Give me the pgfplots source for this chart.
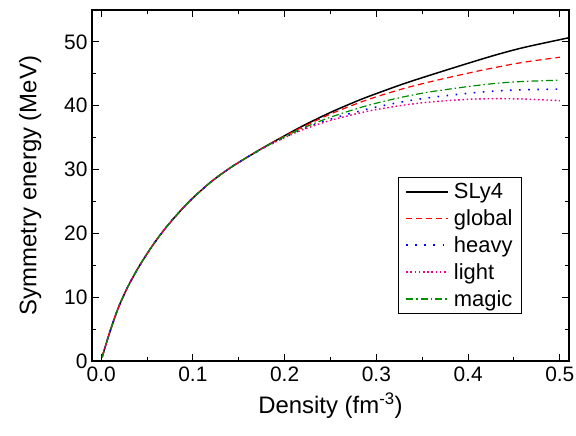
\documentclass[border=0pt]{standalone}
\usepackage{pgfplots}
\pgfplotsset{compat=1.18}
\usepackage{pgfplotstable}
\usepackage{fontspec}
\setmainfont{Liberation Sans}
\definecolor{cgreen}{RGB}{0,140,0}

\pgfplotstableread{
x sly4
0.001 0.6
0.005 2.5
0.01 4.8
0.015 6.9
0.02 8.8
0.025 10.4
0.03 11.9
0.04 14.5
0.05 16.8
0.06 18.9
0.07 20.8
0.08 22.5
0.09 24.1
0.10 25.55
0.12 28.1
0.14 30.2
0.16 32.0
0.18 33.7
0.20 35.3
0.22 36.85
0.25 38.95
0.28 40.8
0.30 41.9
0.33 43.45
0.36 44.85
0.40 46.65
0.43 47.95
0.46 49.1
0.50 50.35
0.51 50.65
}\sly

\pgfplotstableread{
x global heavy light magic
0.001 0.6 0.6 0.6 0.6
0.005 2.5 2.5 2.5 2.5
0.01 4.8 4.8 4.8 4.8
0.015 6.9 6.9 6.9 6.9
0.02 8.8 8.8 8.8 8.8
0.025 10.4 10.4 10.4 10.4
0.03 11.9 11.9 11.9 11.9
0.04 14.5 14.5 14.5 14.5
0.05 16.8 16.8 16.8 16.8
0.06 18.9 18.9 18.9 18.9
0.07 20.8 20.8 20.8 20.8
0.08 22.5 22.5 22.5 22.5
0.09 24.1 24.1 24.1 24.1
0.10 25.55 25.55 25.55 25.55
0.12 28.1 28.1 28.1 28.1
0.14 30.2 30.2 30.2 30.2
0.16 32.0 32.0 32.0 32.0
0.18 33.7 33.6 33.6 33.65
0.20 35.25 35.05 35.0 35.15
0.22 36.7 36.35 36.25 36.5
0.25 38.7 37.9 37.7 38.2
0.28 40.4 39.1 38.8 39.6
0.30 41.4 39.8 39.4 40.4
0.33 42.7 40.65 40.1 41.4
0.36 43.8 41.3 40.6 42.2
0.40 45.1 41.95 41.0 43.0
0.43 46.0 42.3 41.1 43.5
0.46 46.8 42.5 41.05 43.8
0.50 47.6 42.6 40.8 44.0
}\others

\begin{document}
\begin{tikzpicture}
\begin{axis}[
  scale only axis,
  width=477bp, height=351bp,
  xmin=-0.01, xmax=0.51,
  ymin=0, ymax=55,
  xtick={0,0.1,0.2,0.3,0.4,0.5},
  ytick={0,10,20,30,40,50},
  minor x tick num=1,
  minor y tick num=1,
  tick align=inside,
  major tick length=7bp,
  minor tick length=4bp,
  every tick/.style={black, line width=1bp},
  axis line style={line width=1.3bp},
  xticklabel style={/pgf/number format/fixed, /pgf/number format/fixed zerofill, /pgf/number format/precision=1},
  /pgf/number format/assume math mode=true,
  ticklabel style={font=\fontsize{21}{24}\selectfont},
  xticklabel style={yshift=-2bp},
  yticklabel style={xshift=-1bp},
  label style={font=\fontsize{24}{28}\selectfont},
  xlabel={Density (fm\textsuperscript{-3})},
  ylabel={Symmetry energy (MeV)},
  xlabel style={yshift=-5bp},
  ylabel style={yshift=16bp},
  legend style={at={(0.6415,0.524)}, anchor=north west, draw=black, line width=0.8bp,
    font=\fontsize{22}{24}\selectfont, row sep=5.5bp, column sep=3bp, inner xsep=7bp, inner ysep=4bp},
  legend cell align=left,
  legend image code/.code={\draw[#1] (0bp,0bp) -- (42bp,0bp);},
]
\addplot[black, line width=1.5bp, smooth] table[x=x, y=sly4] {\sly};
\addlegendentry{SLy4}
\addplot[red, line width=1.2bp, dash pattern=on 6bp off 4bp, smooth] table[x=x, y=global] {\others};
\addlegendentry{global}
\addplot[blue, line width=1.6bp, dash pattern=on 1.6bp off 7.5bp, smooth] table[x=x, y=heavy] {\others};
\addlegendentry{heavy}
\addplot[magenta, line width=1.4bp, dash pattern=on 1.6bp off 2.6bp, smooth] table[x=x, y=light] {\others};
\addlegendentry{light}
\addplot[cgreen, line width=1.2bp, dash pattern=on 7bp off 3bp on 1.5bp off 3bp, smooth] table[x=x, y=magic] {\others};
\addlegendentry{magic}
\end{axis}
\pgfresetboundingbox
\path[use as bounding box] ([xshift=-92bp,yshift=-75bp]current axis.south west) rectangle ([xshift=7bp,yshift=10bp]current axis.north east);
\end{tikzpicture}
\end{document}
